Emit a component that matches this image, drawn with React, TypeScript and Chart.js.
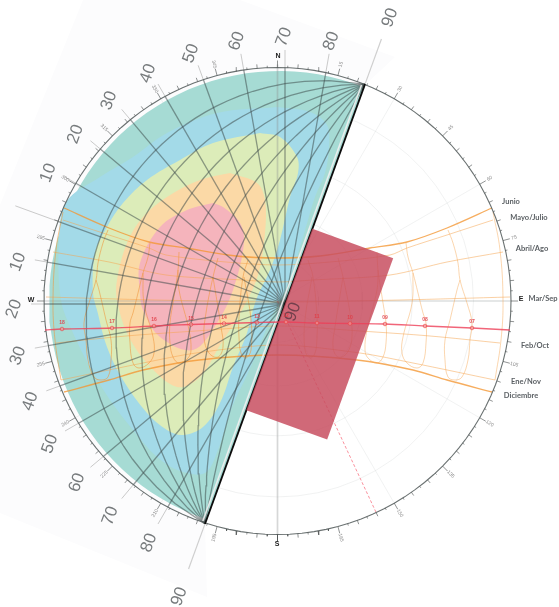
import React, { useEffect, useRef } from "react";
import { Chart, registerables } from "chart.js";

Chart.register(...registerables);

type P = [number, number];

// Chart axes run 0..559 and 0..607 (y downward): the sun-chart plane.
const CX = 277.5, CY = 301, RIM = 233.5;
const OX = 285, OY = 304, HALF = 234;

const shadowAngles = [10, 20, 30, 40, 50, 60, 70, 80];
const radialAngles = [-80, -70, -60, -50, -40, -30, -20, -10, 0, 10, 20, 30, 40, 50, 60, 70, 80];
const upperLabels = ["10", "20", "30", "40", "50", "60", "70", "80", "90"];
const lowerLabels = ["10", "20", "30", "40", "50", "60", "70", "80", "90"];
const azimuthLabels = [15, 30, 45, 60, 75, 105, 120, 135, 150, 165, 195, 210, 225, 240, 255, 285, 300, 315, 330, 345];

const zoneBlue: P[] = [[277,107],[217,113],[167,133],[133,157],[100,177],[66,202],[59,240],[61,300],[73,333],[90,367],[110,400],[133,430],[157,457],[180,471],[205,473],[218,450],[232,407],[248,373],[258,350],[270,320],[283,295],[296,260],[308,220],[315,197],[325,173],[329,147],[327,125],[310,112]];
const zoneYellow: P[] = [[260,133],[213,143],[180,160],[147,180],[123,203],[107,227],[95,253],[93,293],[97,310],[107,347],[123,380],[147,413],[167,430],[183,435],[203,427],[220,403],[233,367],[247,333],[256,300],[270,270],[280,240],[290,197],[298,173],[297,157],[280,137]];
const zoneOrange: P[] = [[230,173],[200,180],[167,197],[143,217],[127,243],[117,280],[117,300],[127,333],[147,363],[177,387],[200,377],[220,345],[242,310],[258,275],[265,233],[265,200],[257,183]];
const zonePink: P[] = [[213,203],[187,210],[160,227],[140,263],[140,293],[143,310],[160,337],[193,350],[217,323],[233,290],[244,243],[240,223],[223,207]];

const monthJunio: P[] = [[492,208],[447,228],[407,242],[370,248],[320,256],[278,258]];
const monthMayo: P[] = [[493,220],[447,235],[407,248],[390,255],[330,262],[278,265]];
const monthAbril: P[] = [[503,252],[447,262],[390,275],[313,280],[278,282]];
const monthMarzo: P[] = [[510,297],[400,300],[278,302]];
const monthFebrero: P[] = [[500,343],[430,336],[360,331],[278,326]];
const monthEnero: P[] = [[495,380],[413,363],[360,353],[278,345]];
const monthDiciembre: P[] = [[492,392],[447,380],[413,370],[357,360],[278,355]];

const hourA: P[] = [[448,230],[453,243],[458,263],[460,280],[467,303],[472,323],[470,340],[468,360],[462,377],[455,380],[448,377],[445,360],[445,340],[450,320],[457,290],[460,280]];
const hourB: P[] = [[406,243],[408,257],[413,273],[418,293],[423,313],[426,323],[426,343],[423,363],[417,368],[407,363],[402,353],[403,337],[412,303],[413,273]];
const hourC: P[] = [[377,252],[378,270],[383,303],[386,323],[386,343],[383,357],[377,363],[368,358],[365,350],[367,330],[377,290],[378,270]];
const hourD: P[] = [[338,258],[343,277],[350,313],[352,337],[347,353],[338,357],[333,347],[335,327],[343,277]];
const hourE: P[] = [[308,260],[313,277],[317,317],[317,337],[315,353],[310,358],[305,350],[305,320],[312,277]];
const hourF: P[] = [[493,212],[500,250],[503,300],[501,340],[495,380]];

const observedDay: P[] = [[45,330],[62,329],[112,328],[154,326],[191,324.5],[224,323.5],[257,322.5],[286,322],[317,323],[350,323.5],[385,324],[425,326],[472,328],[510,330]];
const hourMarks: P[] = [[62,329],[112,328],[154,326],[191,324.5],[224,323.5],[257,322.5],[286,322],[317,323],[350,323.5],[385,324],[425,326],[472,328]];
const hourNames = ["18","17","16","15","14","13","12","11","10","09","08","07"];

const monthNames = ["Junio","Mayo/Julio","Abril/Ago","Mar/Sep","Feb/Oct","Ene/Nov","Diciembre"];
const monthNameSpots: P[] = [[511,202],[529,218],[532,249],[543,299],[535,346],[526,382],[521,396]];
const compassNames = ["N","E","S","W"];
const compassSpots: P[] = [[278,56],[521,299],[277,544],[31,300]];

const sheet: P[] = [[83,0],[240,0],[395,57],[365,85],[205,523],[207,597],[0,513],[0,205]];
const dashAzimuth = 155;
const windowDepth = 86, windowTop = 80, windowBottom = -113;

const rad = (d: number) => (d * Math.PI) / 180;
const prot = (u: number, v: number): P => [
  OX + u * Math.cos(rad(160)) + v * Math.cos(rad(70)),
  OY - u * Math.sin(rad(160)) - v * Math.sin(rad(70)),
];
const polar = (az: number, r: number): P => [CX + r * Math.sin(rad(az)), CY - r * Math.cos(rad(az))];
const mirror = (pts: P[]): P[] => pts.map(([x, y]) => [556 - x, y] as P);
const full = (pts: P[]): P[] => [...pts, ...mirror(pts).reverse().slice(1)];
const closed = (pts: P[]): P[] => [...pts, pts[0]];

function toRim(ang: number): number {
  const dx = Math.cos(rad(160 - ang)), dy = -Math.sin(rad(160 - ang));
  const fx = OX - CX, fy = OY - CY;
  const b = fx * dx + fy * dy;
  return -b + Math.sqrt(b * b - (fx * fx + fy * fy - RIM * RIM));
}

function series(pts: P[], o: any = {}) {
  return {
    type: "scatter",
    data: pts.map(([x, y]) => ({ x, y })),
    showLine: true,
    pointRadius: 0,
    borderWidth: 1,
    borderColor: "transparent",
    backgroundColor: "transparent",
    tension: 0,
    fill: false,
    ...o,
  };
}
const zone = (pts: P[], color: string) =>
  series(closed(pts), { fill: "shape", backgroundColor: color, tension: 0.35, borderWidth: 0 });

function buildDatasets() {
  const out: any[] = [];
  out.push(zone(sheet, "#fcfcfd"));
  (out[0] as any).tension = 0;

  // faint base grid of the sun chart
  const faint = "rgba(190,195,195,0.22)";
  [10, 30, 50, 70].forEach((alt) => {
    const r = RIM * Math.tan(rad((90 - alt) / 2));
    const c: P[] = [];
    for (let a = 0; a <= 360; a += 6) c.push(polar(a, r));
    out.push(series(c, { borderColor: faint }));
  });
  [30, 60, 120, 150, 210, 240, 300, 330].forEach((a) =>
    out.push(series([[CX, CY], polar(a, RIM)], { borderColor: faint }))
  );

  // teal half disc and comfort zones
  const seg: P[] = [];
  for (let a = 68.2; a <= 251.9; a += 3) {
    seg.push([279 + 230 * Math.cos(rad(a)), CY - 230 * Math.sin(rad(a))]);
  }
  seg.push(prot(0, -HALF), prot(0, HALF));
  out.push(series(closed(seg), { fill: "shape", backgroundColor: "#a6dbd4", borderWidth: 0 }));
  out.push(zone(zoneBlue, "#a3dae8"));
  out.push(zone(zoneYellow, "#dcecb9"));
  out.push(zone(zoneOrange, "#fbd9a6"));
  out.push(zone(zonePink, "#f5b4bc"));

  // compass axes, visible through the zones
  out.push(series([polar(0, RIM + 3), polar(180, RIM)], { borderColor: "rgba(140,145,145,0.36)", borderWidth: 1.7 }));
  out.push(series([polar(270, RIM), polar(90, RIM)], { borderColor: "rgba(140,145,145,0.3)", borderWidth: 1.5 }));

  // sun paths
  const thin = "rgba(246,165,80,0.58)";
  const leftThin = "rgba(240,150,60,0.72)";
  const strong = "rgba(244,150,50,0.78)";
  [monthMayo, monthAbril, monthMarzo, monthFebrero, monthEnero].forEach((m) =>
    out.push(series(full(m), { borderColor: thin, borderWidth: 0.9, tension: 0.3 }))
  );
  [monthJunio, monthDiciembre].forEach((m) =>
    out.push(series(full(m), { borderColor: strong, borderWidth: 1.3, tension: 0.3 }))
  );
  [hourA, hourB, hourC, hourD, hourE, hourF].forEach((h) => {
    out.push(series(h, { borderColor: thin, borderWidth: 0.8, tension: 0.4 }));
    out.push(series(mirror(h), { borderColor: leftThin, borderWidth: 0.8, tension: 0.4 }));
  });
  const az = dashAzimuth;
  out.push(series([polar(az, 0), polar(az, RIM)], { borderColor: "rgba(248,110,125,0.75)", borderWidth: 1, borderDash: [3, 2] }));

  // shadow-angle protractor
  const dark = "rgba(60,72,72,0.52)";
  radialAngles.forEach((ang) => {
    const t = toRim(ang);
    const dir = (r: number): P => [OX + r * Math.cos(rad(160 - ang)), OY - r * Math.sin(rad(160 - ang))];
    out.push(series([dir(0), dir(t)], { borderColor: dark, borderWidth: 1.3 }));
    const far = ang === 0 ? 287 : 254;
    out.push(series([dir(t), dir(far)], { borderColor: "#cacaca", borderWidth: 1 }));
  });
  shadowAngles.forEach((alpha) => {
    const a = HALF * Math.tan(rad((90 - alpha) / 2));
    const c = (a * a - HALF * HALF) / (2 * a);
    const r = a - c;
    const arc: P[] = [];
    for (let v = -HALF; v <= HALF; v += 9) {
      arc.push(prot(c + Math.sqrt(Math.max(0, r * r - v * v)), v));
    }
    out.push(series(arc, { borderColor: dark, borderWidth: 1.3 }));
  });
  out.push(series([prot(0, HALF), prot(0, 282)], { borderColor: "#cfcfcf", borderWidth: 1.2 }));
  out.push(series([prot(0, -HALF), prot(0, -282)], { borderColor: "#cfcfcf", borderWidth: 1.2 }));

  // rim and ticks
  const ring: P[] = [];
  for (let a = 0; a <= 360; a += 3) ring.push(polar(a, RIM));
  out.push(series(ring, { borderColor: "rgba(80,88,88,0.85)", borderWidth: 1.1 }));
  const ticks: P[] = [];
  for (let a = 0; a < 360; a += 5) {
    const len = a % 15 === 0 ? 7 : 4;
    ticks.push(polar(a, RIM), polar(a, RIM + len), [NaN, NaN]);
  }
  for (let a = 2.5; a < 360; a += 5) {
    ticks.push(polar(a, RIM), polar(a, RIM + 2), [NaN, NaN]);
  }
  out.push(series(ticks, { borderColor: "rgba(70,76,76,0.75)", borderWidth: 0.8, spanGaps: false }));

  // chord and window
  out.push(series([prot(3, HALF - 2), prot(3, -HALF + 2)], { borderColor: "rgba(240,240,240,0.9)", borderWidth: 1.6 }));
  out.push(series([prot(0, HALF), prot(0, -HALF)], { borderColor: "#0c0c0c", borderWidth: 1.8 }));
  const win: P[] = [prot(0, windowTop), prot(-windowDepth, windowTop), prot(-windowDepth, windowBottom), prot(0, windowBottom)];
  out.push(series(closed(win), { fill: "shape", backgroundColor: "rgba(199,76,94,0.84)", borderWidth: 0 }));

  // observed day
  out.push(series(observedDay, { borderColor: "rgba(238,62,88,0.8)", borderWidth: 1.3, tension: 0.3 }));
  out.push(series(hourMarks, { showLine: false, pointRadius: 1.8, pointBorderWidth: 0.8, pointBorderColor: "rgba(232,70,70,0.85)", pointBackgroundColor: "rgba(255,200,190,0.4)" }));

  return out.reverse();
}

const labelsPlugin = {
  id: "chartText",
  afterDatasetsDraw(chart: any) {
    const { ctx, scales } = chart;
    const sx = (v: number) => scales.x.getPixelForValue(v);
    const sy = (v: number) => scales.y.getPixelForValue(v);
    const put = (t: string, p: P, rot: number, font: string, color: string) => {
      ctx.save();
      ctx.translate(sx(p[0]), sy(p[1]));
      ctx.rotate(rad(rot));
      ctx.font = font;
      ctx.fillStyle = color;
      ctx.textAlign = "center";
      ctx.textBaseline = "middle";
      ctx.fillText(t, 0, 0);
      ctx.restore();
    };
    const big = '17px "Liberation Sans"';
    const grey = "#777b7d";
    const dir = (ang: number, r: number): P => [OX - 1 + r * Math.cos(rad(160 - ang)), OY + 5 - r * Math.sin(rad(160 - ang))];
    upperLabels.forEach((t, i) => {
      const ang = (i + 1) * 10;
      put(t, dir(ang, ang === 90 ? 310 : 272), -70, big, grey);
    });
    lowerLabels.forEach((t, i) => {
      const ang = -(i + 1) * 10;
      put(t, dir(ang, ang === -90 ? 306 : 270), -70, big, grey);
    });
    put("90", [293, 312], -70, big, "rgba(105,60,72,0.9)");
    azimuthLabels.forEach((a) => {
      put(String(a), polar(a, 245), a <= 180 ? a - 90 : a + 90, '5px "Liberation Sans"', "#8d8d8d");
    });
    compassNames.forEach((t, i) => put(t, compassSpots[i], 0, 'bold 7px "Liberation Sans"', "#222"));
    monthNames.forEach((t, i) => put(t, monthNameSpots[i], 0, 'bold 7.5px "Lato"', "#5a5f63"));
    hourNames.forEach((t, i) => {
      const [x, y] = hourMarks[i];
      put(t, [x, y - 6], 0, 'bold 5px "Liberation Sans"', "rgba(225,60,70,0.9)");
    });
  },
};

export default function App() {
  const ref = useRef<HTMLCanvasElement>(null);
  useEffect(() => {
    const chart = new Chart(ref.current as HTMLCanvasElement, {
      type: "scatter",
      data: { datasets: buildDatasets() },
      options: {
        animation: false,
        responsive: false,
        devicePixelRatio: 1,
        layout: { padding: 0, autoPadding: false },
        plugins: { legend: { display: false }, tooltip: { enabled: false } },
        scales: {
          x: { type: "linear", min: 0, max: 559, display: false },
          y: { type: "linear", min: 0, max: 607, reverse: true, display: false },
        },
      },
      plugins: [labelsPlugin],
    } as any);
    return () => chart.destroy();
  }, []);
  return (
    <div style={{ position: "fixed", left: 0, top: 0, width: 559, height: 607, background: "#fff", overflow: "hidden" }}>
      <canvas ref={ref} width={559} height={607} style={{ display: "block", filter: "blur(0.6px)" }} />
    </div>
  );
}
